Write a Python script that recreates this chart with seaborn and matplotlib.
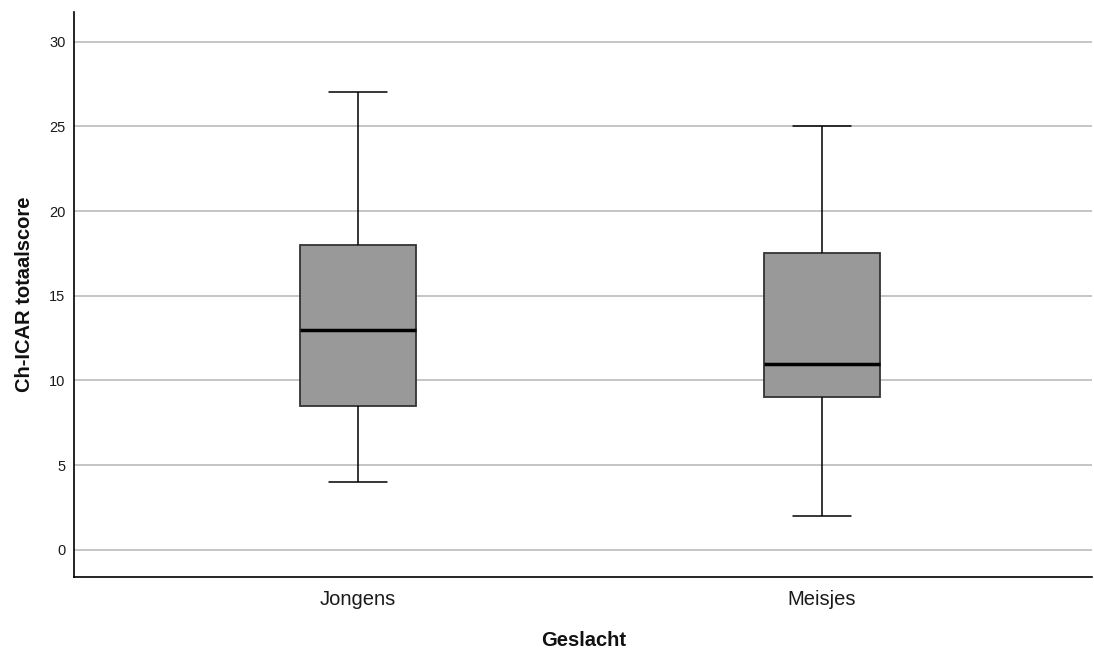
import pandas as pd
import matplotlib
matplotlib.use("Agg")
import matplotlib.pyplot as plt
import seaborn as sns

# Five-number summaries (min, Q1, median, Q3, max)
groups = ["Jongens", "Meisjes"]
jongens = [4, 8.5, 13, 18, 27]
meisjes = [2, 9, 11, 17.5, 25]

df = pd.DataFrame({
    "Geslacht": ["Jongens"] * len(jongens) + ["Meisjes"] * len(meisjes),
    "score": jongens + meisjes,
})

sns.set_theme(style="white")
plt.rcParams["font.family"] = ["Liberation Sans", "DejaVu Sans"]

fig = plt.figure(figsize=(10.94, 6.49), dpi=100)
ax = fig.add_axes([0.0676, 0.111, 0.931, 0.8705])

sns.boxplot(
    data=df, x="Geslacht", y="score", order=groups,
    color="#999999", saturation=1, width=0.25, whis=10, ax=ax,
    boxprops=dict(edgecolor="#333333", linewidth=1.3),
    medianprops=dict(color="black", linewidth=2.5),
    whiskerprops=dict(color="black", linewidth=1.1),
    capprops=dict(color="black", linewidth=1.1),
)

ax.set_xlim(-0.611, 1.583)
ax.set_ylim(-1.6, 31.75)
ax.set_yticks([0, 5, 10, 15, 20, 25, 30])
ax.yaxis.grid(True, color="#c0c0c0", linewidth=1.3)
ax.set_axisbelow(True)

for side in ["top", "right"]:
    ax.spines[side].set_visible(False)
for side in ["left", "bottom"]:
    ax.spines[side].set_color("black")
    ax.spines[side].set_linewidth(1.2)

ax.tick_params(axis="y", labelsize=10.5, length=0, pad=6, colors="#1a1a1a")
ax.tick_params(axis="x", labelsize=14.5, length=0, pad=9.5, colors="#1a1a1a")
ax.set_xlabel("Geslacht", fontsize=14.5, fontweight="bold", labelpad=16, color="#111111")
ax.set_ylabel("Ch-ICAR totaalscore", fontsize=14.5, fontweight="bold", labelpad=11, color="#111111")

fig.savefig("out.png", dpi=100)
